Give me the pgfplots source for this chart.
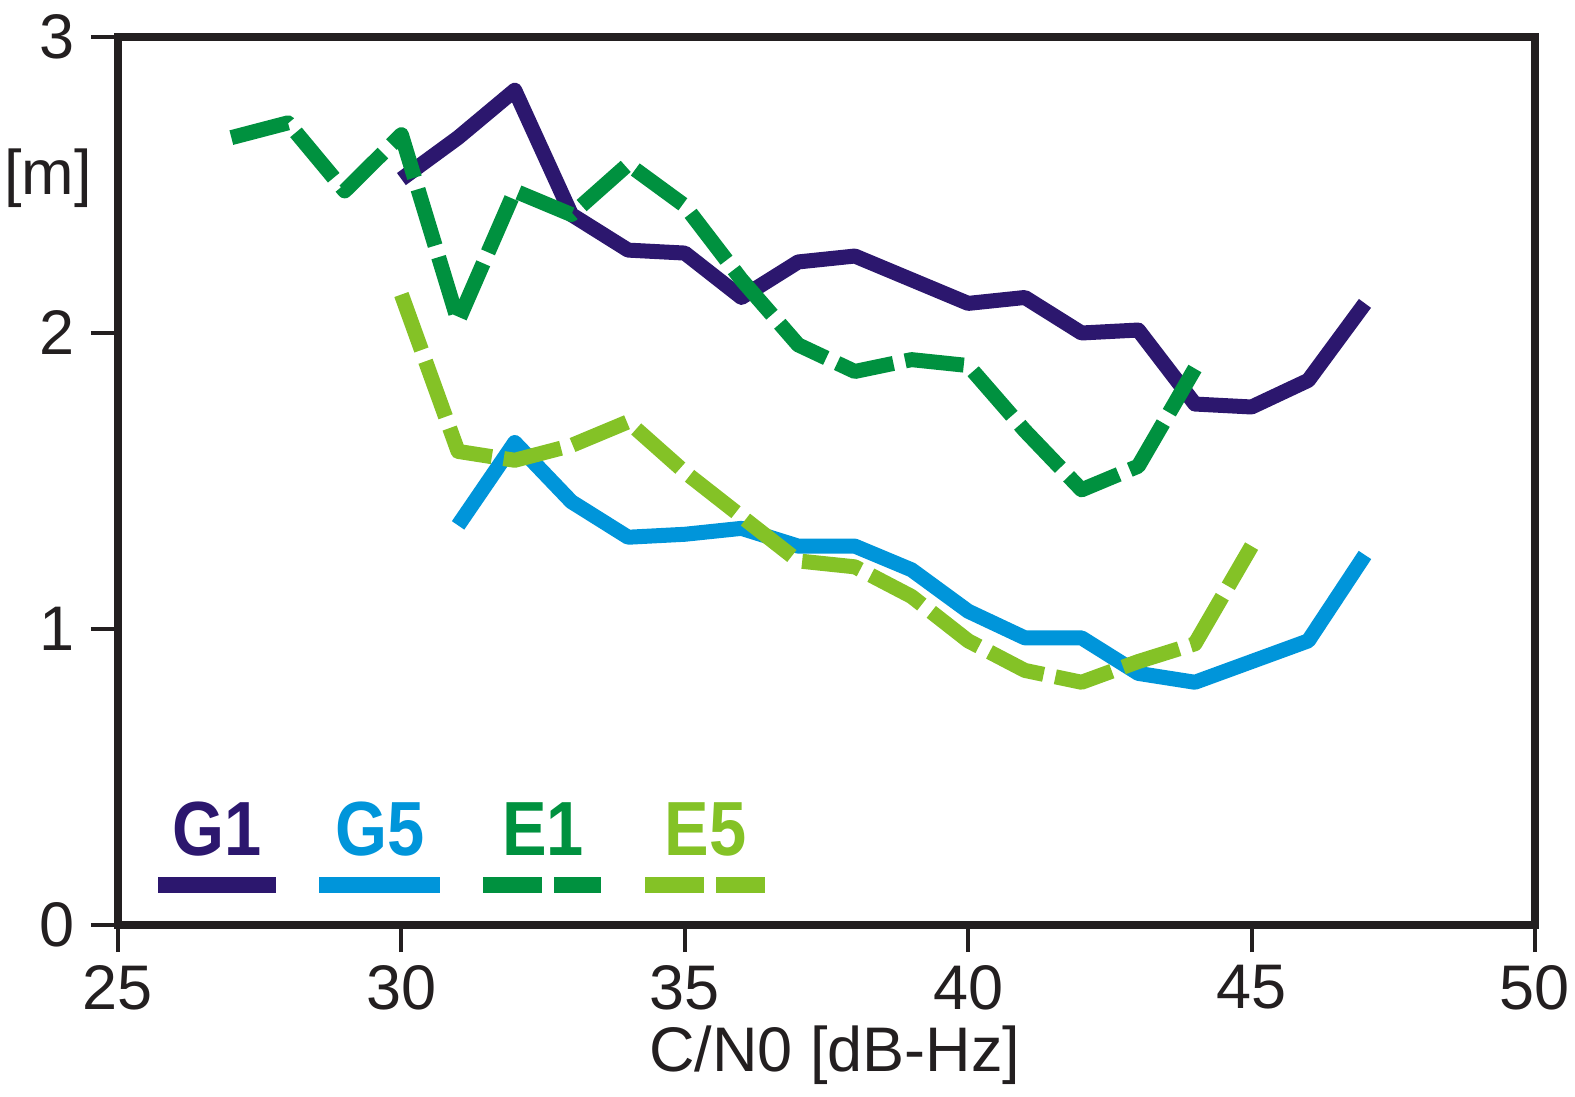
\documentclass[border=0pt]{standalone}
\usepackage{pgfplots}
\pgfplotsset{compat=1.18}
\usepackage{fontspec}
\setmainfont{Liberation Sans}
\newfontfamily\legfont[FakeStretch=0.87]{Liberation Sans}
\definecolor{cGa}{RGB}{44,23,110}
\definecolor{cGb}{RGB}{0,149,218}
\definecolor{cEa}{RGB}{0,145,63}
\definecolor{cEb}{RGB}{132,194,38}
\definecolor{axc}{RGB}{35,31,32}
\begin{document}
\begin{tikzpicture}
\useasboundingbox (-59pt,-86pt) rectangle (728.5pt,462.5pt);
\begin{axis}[
  at={(0,0)}, anchor=south west,
  scale only axis, width=708.5pt, height=444pt,
  xmin=25, xmax=50, ymin=0, ymax=3,
  xtick={25,30,35,40,45,50}, ytick={0,1,2,3},
  axis line style={line width=3.6pt, color=axc},
  tick align=outside, xtick pos=bottom, ytick pos=left,
  major tick length=13.5pt,
  every tick/.style={line width=2pt, axc},
  tick label style={font=\fontsize{31.5}{36}\selectfont, inner sep=0pt, text=axc},
  xticklabel style={yshift=-6.5pt},
  yticklabel style={xshift=-8pt},
  /pgf/number format/assume math mode=true,
  xlabel={C/N0 [dB-Hz]},
  xlabel style={font=\fontsize{31.5}{36}\selectfont, text=axc, inner sep=0pt, at={(axis description cs:0.5,0)}, anchor=base, xshift=4.25pt, yshift=-73.5pt},
  clip=false,
  every axis plot/.append style={line width=7.5pt, line join=round, line cap=butt},
]
\addplot[cGa] coordinates {(30,2.52)(31,2.66)(32,2.82)(33,2.40)(34,2.28)(35,2.27)(36,2.12)(37,2.24)(38,2.26)(39,2.18)(40,2.10)(41,2.12)(42,2.00)(43,2.01)(44,1.76)(45,1.75)(46,1.84)(47,2.10)};
\addplot[cGb] coordinates {(31,1.35)(32,1.63)(33,1.43)(34,1.31)(35,1.32)(36,1.34)(37,1.28)(38,1.28)(39,1.20)(40,1.06)(41,0.97)(42,0.97)(43,0.85)(44,0.82)(45,0.89)(46,0.96)(47,1.25)};
\addplot[cEa, dash pattern=on 29.5pt off 6pt] coordinates {(27,2.66)(28,2.71)(29,2.48)(30,2.67)(31,2.04)(32,2.48)(33,2.40)(34,2.57)(35,2.43)(36,2.18)(37,1.96)(38,1.87)(39,1.91)(40,1.89)(41,1.67)(42,1.47)(43,1.55)(44,1.88)};
\addplot[cEb, dash pattern=on 29.5pt off 6pt] coordinates {(30,2.13)(31,1.60)(32,1.57)(33,1.62)(34,1.70)(35,1.53)(36,1.38)(37,1.23)(38,1.21)(39,1.11)(40,0.96)(41,0.86)(42,0.82)(43,0.89)(44,0.95)(45,1.28)};
% legend
\draw[cGa, line width=8pt] (axis cs:25.71,0.135) -- (axis cs:27.79,0.135);
\draw[cGb, line width=8pt] (axis cs:28.55,0.135) -- (axis cs:30.68,0.135);
\draw[cEa, line width=8pt, dash pattern=on 29.5pt off 6pt] (axis cs:31.44,0.135) -- (axis cs:33.52,0.135);
\draw[cEb, line width=8pt, dash pattern=on 29.5pt off 6pt] (axis cs:34.30,0.135) -- (axis cs:36.42,0.135);
\node[anchor=base, inner sep=0pt, text=cGa, font=\legfont\bfseries\fontsize{38.4}{40}\selectfont] at (axis cs:26.75,0.236) {G1};
\node[anchor=base, inner sep=0pt, text=cGb, font=\legfont\bfseries\fontsize{38.4}{40}\selectfont] at (axis cs:29.62,0.236) {G5};
\node[anchor=base, inner sep=0pt, text=cEa, font=\legfont\bfseries\fontsize{38.4}{40}\selectfont] at (axis cs:32.50,0.236) {E1};
\node[anchor=base, inner sep=0pt, text=cEb, font=\legfont\bfseries\fontsize{38.4}{40}\selectfont] at (axis cs:35.37,0.236) {E5};
\node[inner sep=0pt, text=axc, font=\fontsize{31.5}{36}\selectfont] at (rel axis cs:-0.0494,0.841) {[m]};
\end{axis}
\end{tikzpicture}
\end{document}
